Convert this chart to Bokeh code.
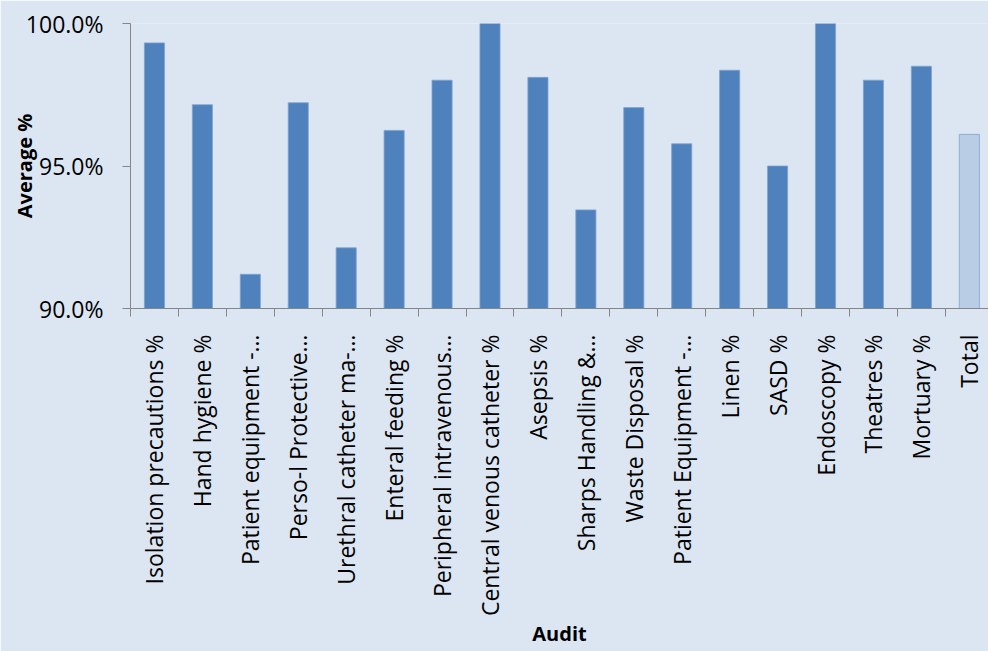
import math
from bokeh.plotting import figure
from bokeh.models import Range1d, FixedTicker, PrintfTickFormatter, ColumnDataSource
from bokeh.embed import file_html
from bokeh.resources import INLINE

categories = [
    "Isolation precautions %", "Hand hygiene %", "Patient equipment -…",
    "Perso-l Protective…", "Urethral catheter ma-…", "Enteral feeding %",
    "Peripheral intravenous…", "Central venous catheter %", "Asepsis %",
    "Sharps Handling &…", "Waste Disposal %", "Patient Equipment -…",
    "Linen %", "SASD %", "Endoscopy %", "Theatres %", "Mortuary %", "Total",
]
values = [99.32, 97.15, 91.20, 97.22, 92.13, 96.25, 98.01, 100.0, 98.11,
          93.46, 97.05, 95.78, 98.36, 95.0, 100.0, 98.01, 98.50, 96.11]
y_ticks = [90, 95, 100]

BLUE = "#4f81bd"
LIGHT = "#b9cde5"
BG = "#dce6f2"
AXIS = "#868686"
FONT = "Open Sans"

n = len(categories)
xs = [i + 0.5 for i in range(n)]
colors = [LIGHT if c == "Total" else BLUE for c in categories]
src = ColumnDataSource(dict(x=xs, top=values, color=colors, cat=categories))

p = figure(
    width=988, height=651,
    x_range=Range1d(0, 17.9), y_range=Range1d(90, 100),
    output_backend="svg", toolbar_location=None,
    min_border_left=130, min_border_right=0, min_border_top=23, min_border_bottom=343,
)
p.frame_width = 858
p.frame_height = 285

p.background_fill_color = BG
p.border_fill_color = BG
p.outline_line_color = None
p.xgrid.grid_line_color = None
p.ygrid.grid_line_color = None

p.vbar(x="x", top="top", bottom=90, width=0.42, fill_color="color",
       line_color="#7fa3d2", line_width=0.8, source=src)

# x axis: labels at centres, ticks at boundaries (minor)
xa = p.xaxis[0]
xa.ticker = FixedTicker(ticks=xs, minor_ticks=list(range(n + 1)))
xa.major_label_overrides = {x: c for x, c in zip(xs, categories)}
xa.major_label_orientation = math.pi / 2
xa.major_tick_out = 0
xa.major_tick_in = 0
xa.minor_tick_out = 8
xa.minor_tick_in = 0
xa.minor_tick_line_color = AXIS
xa.axis_line_color = AXIS
xa.major_label_standoff = 18
xa.major_label_text_font = FONT
xa.major_label_text_font_size = "23px"
xa.major_label_text_color = "black"
xa.axis_label = "Audit"
xa.axis_label_text_font = FONT
xa.axis_label_text_font_style = "bold"
xa.axis_label_text_font_size = "20px"
xa.axis_label_text_color = "black"
xa.axis_label_standoff = 1

ya = p.yaxis[0]
ya.ticker = FixedTicker(ticks=y_ticks, minor_ticks=[])
ya.formatter = PrintfTickFormatter(format="%.1f%%")
ya.major_tick_out = 8
ya.major_tick_in = 0
ya.major_tick_line_color = AXIS
ya.axis_line_color = AXIS
ya.major_label_standoff = 19
ya.major_label_text_font = FONT
ya.major_label_text_font_size = "23px"
ya.major_label_text_color = "black"
ya.axis_label = "Average %"
ya.axis_label_text_font = FONT
ya.axis_label_text_font_style = "bold"
ya.axis_label_text_font_size = "20px"
ya.axis_label_text_color = "black"
ya.axis_label_standoff = -15

open("out.html", "w").write(file_html(p, INLINE))
